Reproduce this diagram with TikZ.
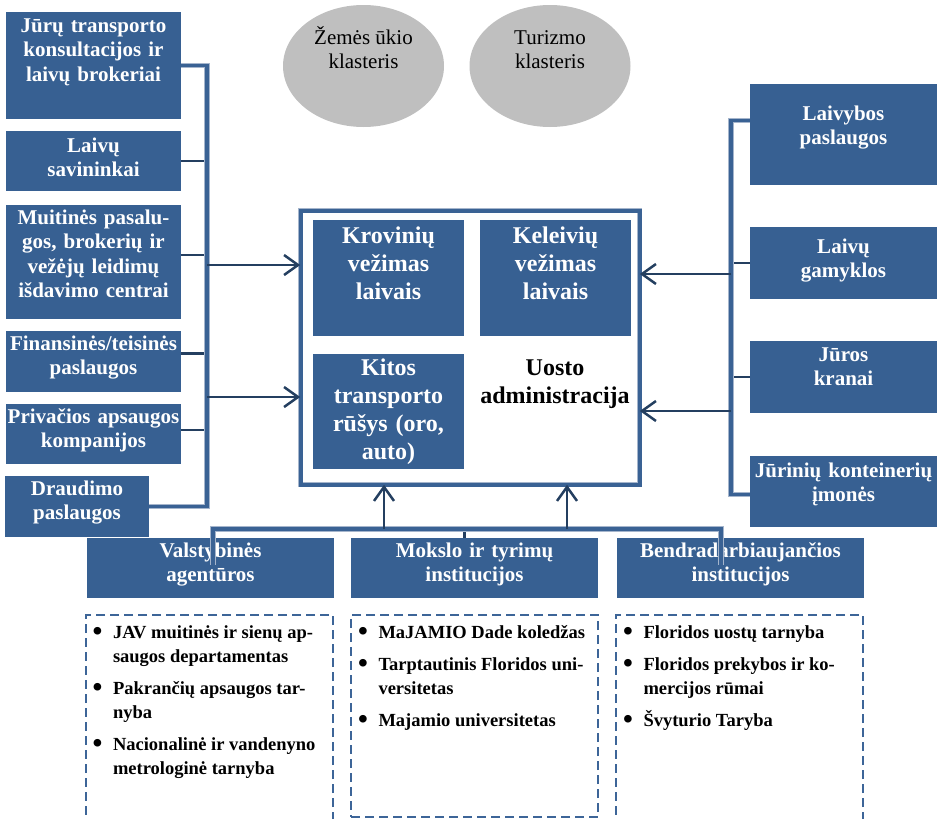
\documentclass[tikz,border=0pt]{standalone}
\usepackage{fontspec}
\setmainfont{Liberation Serif}
\usetikzlibrary{shapes.geometric, arrows.meta, positioning}
\definecolor{portblue}{RGB}{55,96,146}
\definecolor{linknavy}{RGB}{36,63,96}
\definecolor{spineblue}{RGB}{58,98,148}
\definecolor{spineedge}{RGB}{165,181,204}
\definecolor{clustergray}{RGB}{191,191,191}
\definecolor{dashblue}{RGB}{61,101,152}
\newcommand*{\boxfont}{\fontsize{21}{24.5}\selectfont\bfseries}
\newcommand*{\bigboxfont}{\fontsize{24}{28}\selectfont\bfseries}
\newcommand*{\listfont}{\fontsize{18.5}{24}\selectfont\bfseries}
\newcommand*{\dotmark}{\raisebox{-2.5pt}{\fontsize{28}{28}\selectfont\textbullet}}
\tikzset{
 panel/.style={fill=portblue, text=white, font=\boxfont, align=center, inner sep=0pt, outer sep=0pt, anchor=north west},
 cluster/.style={ellipse, fill=clustergray, font=\fontsize{21}{24}\selectfont, align=center, inner sep=0pt, minimum width=161pt, minimum height=122pt, text height=39pt, text depth=35pt},
 dashbox/.style={draw=dashblue, line width=2pt, dash pattern=on 9pt off 5pt, inner sep=0pt, outer sep=0pt, anchor=north west, minimum width=247pt},
 listtxt/.style={inner sep=0pt, font=\listfont},
 link/.style={draw=linknavy, line width=2.5pt},
 feed/.style={link, -{Straight Barb[length=14pt, width=20pt]}},
 spine/.style={draw=spineedge, double=spineblue, double distance=3.5pt, line width=0.8pt},
}

\begin{document}
\begin{tikzpicture}[x=1pt, y=-1pt]
 \useasboundingbox (0,0) rectangle (940,819);

 % clusters
 \node[cluster] (zemes) at (363.5,66) {Žemės ūkio\\klasteris};
 \node[cluster] (turizm) at (550,66) {Turizmo\\klasteris};

 % port administration
 \node[draw=spineedge, double=spineblue, double distance=4pt, line width=0.6pt, minimum width=339pt, minimum height=274pt] (port) at (470,347.5) {};
 \node[panel, font=\bigboxfont, text width=151pt, text height=23pt, text depth=93pt] (krov) at (313,220) {Krovinių\\vežimas\\laivais};
 \node[panel, font=\bigboxfont, text width=151pt, text height=23pt, text depth=93pt] (kel) at (480,220) {Keleivių\\vežimas\\laivais};
 \node[panel, font=\bigboxfont, text width=151pt, text height=21pt, text depth=94pt] (kitos) at (313,354) {Kitos\\transporto\\rūšys (oro,\\auto)};
 \node[font=\bigboxfont, align=center] (uosto) at (555,384) {Uosto\\administracija};

 % left column
 \node[panel, text width=175pt, text height=20pt, text depth=87pt] (jura) at (6,12) {Jūrų transporto\\konsultacijos ir\\laivų brokeriai};
 \node[panel, text width=175pt, text height=21pt, text depth=39pt] (savin) at (6,131) {Laivų\\savininkai};
 \node[panel, text width=175pt, text height=19pt, text depth=95pt] (mui) at (6,205) {Muitinės pasalu-\\gos, brokerių ir\\vežėjų leidimų\\išdavimo centrai};
 \node[panel, text width=175pt, text height=19pt, text depth=42pt] (fin) at (6,331) {Finansinės/teisinės\\paslaugos};
 \node[panel, text width=175pt, text height=19pt, text depth=41pt] (priv) at (6,404) {Privačios apsaugos\\kompanijos};
 \node[panel, text width=144pt, text height=19pt, text depth=42pt] (draud) at (5,476) {Draudimo\\paslaugos};

 % right column
 \node[panel, text width=187pt, text height=36pt, text depth=65pt] (laivyb) at (750,84) {Laivybos\\paslaugos};
 \node[panel, text width=187pt, text height=26pt, text depth=46pt] (gamyk) at (750,227) {Laivų\\gamyklos};
 \node[panel, text width=187pt, text height=20pt, text depth=52pt] (kranai) at (750,341) {Jūros\\kranai};
 \node[panel, text width=187pt, text height=21pt, text depth=50pt] (kont) at (750,456) {Jūrinių konteinerių\\įmonės};

 % bottom row
 \node[panel, text width=247pt, text height=19pt, text depth=41pt] (valst) at (87,538) {Valstybinės\\agentūros};
 \node[panel, text width=247pt, text height=19pt, text depth=41pt] (mokslo) at (351,538) {Mokslo ir tyrimų\\institucijos};
 \node[panel, text width=247pt, text height=19pt, text depth=41pt] (bendr) at (617,538) {Bendradarbiaujančios\\institucijos};

 \node[dashbox, minimum height=225pt] (agbox) at (86,615) {};
 \node[dashbox, minimum height=202pt] (mokbox) at (351,615) {};
 \node[dashbox, minimum height=225pt] (benbox) at (616,615) {};

 \node[listtxt, below right=6pt and 6.5pt of agbox.north west] (aglist) {%
  \begin{tabular}{@{}l@{\hspace{10.5pt}}l@{}}
  \dotmark & JAV muitinės ir sienų ap-\\
   & saugos departamentas\\[8pt]
  \dotmark & Pakrančių apsaugos tar-\\
   & nyba\\[8pt]
  \dotmark & Nacionalinė ir vandenyno\\
   & metrologinė tarnyba
  \end{tabular}};
 \node[listtxt, below right=6pt and 7pt of mokbox.north west] (moklist) {%
  \begin{tabular}{@{}l@{\hspace{10.5pt}}l@{}}
  \dotmark & MaJAMIO Dade koledžas\\[8pt]
  \dotmark & Tarptautinis Floridos uni-\\
   & versitetas\\[8pt]
  \dotmark & Majamio universitetas
  \end{tabular}};
 \node[listtxt, below right=6pt and 7pt of benbox.north west] (benlist) {%
  \begin{tabular}{@{}l@{\hspace{10.5pt}}l@{}}
  \dotmark & Floridos uostų tarnyba\\[8pt]
  \dotmark & Floridos prekybos ir ko-\\
   & mercijos rūmai\\[8pt]
  \dotmark & Švyturio Taryba
  \end{tabular}};

 % left connectors
 \draw[link] (savin.east) --++ (26,0);
 \draw[link] ([yshift=7pt]mui.east) --++ (26,0);
 \draw[link] ([yshift=8pt]fin.east) --++ (26,0);
 \draw[link] ([yshift=4pt]priv.east) --++ (26,0);
 \draw[spine] (jura.east) --++ (26,0) |- (draud.east);
 \coordinate (lj1) at (207,265);
 \coordinate (lj2) at (207,397);
 \draw[feed] (lj1) -- (lj1 -| port.west);
 \draw[feed] (lj2) -- (lj2 -| port.west);

 % right connectors
 \draw[link] (gamyk.west) --++ (-19,0);
 \draw[link] (kranai.west) --++ (-19,0);
 \draw[spine] ([yshift=14pt]laivyb.west) --++ (-19,0) |- ([yshift=-3pt]kont.west);
 \coordinate (rj1) at (731,274);
 \coordinate (rj2) at (731,411);
 \draw[feed] (rj1) -- (rj1 -| port.east);
 \draw[feed] (rj2) -- (rj2 -| port.east);

 % bottom connectors
 \draw[link] ([xshift=-10pt]mokslo.north) --++ (0,-9);
 \coordinate (bl) at (213,565);
 \coordinate (br) at (721,565);
 \draw[spine] (bl) --++ (0,-36) -| (br);
 \coordinate (bj1) at (384,529);
 \coordinate (bj2) at (567,529);
 \draw[feed] (bj1) -- (bj1 |- port.south);
 \draw[feed] (bj2) -- (bj2 |- port.south);
\end{tikzpicture}
\end{document}
